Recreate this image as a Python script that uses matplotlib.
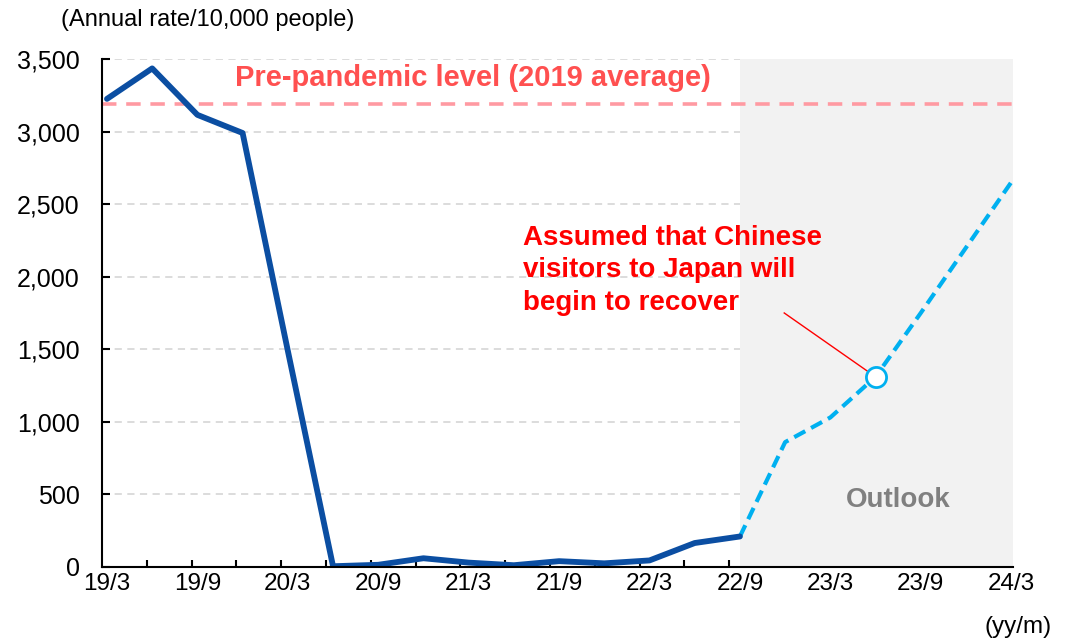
import numpy as np
import matplotlib
matplotlib.use('Agg')
from matplotlib import pyplot as plt

plt.rcParams['font.family'] = ['Liberation Sans', 'DejaVu Sans']

# 四半期ラベル (yy/m)
quarters = ['19/3', '19/6', '19/9', '19/12', '20/3', '20/6', '20/9', '20/12',
            '21/3', '21/6', '21/9', '21/12', '22/3', '22/6', '22/9', '22/12',
            '23/3', '23/6', '23/9', '23/12', '24/3']
# 実績 (19/3 - 22/9)
actual = [3225, 3435, 3115, 2990, 1490, 5, 15, 60, 30, 12, 40, 25, 45, 165, 210]
# 見通し (22/9 - 24/3)
outlook = [210, 860, 1030, 1310, 1750, 2200, 2650]
pre_pandemic = 3190
recovery_q = '23/6'

x_all = np.arange(len(quarters))
x_act = x_all[:len(actual)]
x_out = x_all[len(actual) - 1:]

fig = plt.figure(figsize=(10.68, 6.41), dpi=100)
ax = fig.add_axes([0.0955, 0.1155, 0.853, 0.7925])

ax.set_xlim(-0.11, 20.04)
ax.set_ylim(0, 3500)

# グリッド
ax.set_yticks(np.arange(0, 3501, 500))
ax.set_yticklabels(['{:,}'.format(v) for v in range(0, 3501, 500)])
ax.yaxis.grid(True, color='#D9D9D9', linestyle=(0, (4, 3)), linewidth=1.3, zorder=0)
ax.set_axisbelow(True)

# 見通し期間の網掛け
ax.axvspan(x_out[0], 20.04, color='#F2F2F2', zorder=1, linewidth=0)

# コロナ前水準
ax.axhline(pre_pandemic, color='#FF9AA2', linestyle=(0, (4, 2.7)), linewidth=2.6, zorder=2)
ax.text(8.1, 3370, 'Pre-pandemic level (2019 average)', color='#FF5050',
        fontsize=21, fontweight='bold', ha='center', va='center', zorder=5)

ax.plot(x_act, actual, color='#0B4EA2', linewidth=4.2, solid_capstyle='round',
        solid_joinstyle='round', zorder=4)
ax.plot(x_out, outlook, color='#00B0F0', linewidth=3, linestyle=(0, (3, 1.6)),
        zorder=3)

# 注記
i_rec = quarters.index(recovery_q)
y_rec = outlook[i_rec - x_out[0]]
ax.plot([14.98, i_rec], [1750, y_rec], color='#FF0000', linewidth=1, zorder=4)
ax.plot(i_rec, y_rec, marker='o', markersize=14.5, markerfacecolor='white',
        markeredgecolor='#00B0F0', markeredgewidth=2, zorder=6)
ax.text(9.2, 2045, 'Assumed that Chinese\nvisitors to Japan will\nbegin to recover',
        color='#FF0000', fontsize=20, fontweight='bold', ha='left', va='center',
        linespacing=1.33, zorder=5)
ax.text(17.5, 462, 'Outlook', color='#808080', fontsize=20, fontweight='bold',
        ha='center', va='center', zorder=5)

# 軸
for s in ['top', 'right']:
    ax.spines[s].set_visible(False)
for s in ['left', 'bottom']:
    ax.spines[s].set_linewidth(1.5)
    ax.spines[s].set_zorder(7)

ax.set_xticks(x_all[::2])
ax.set_xticklabels(quarters[::2])
ax.set_xticks(-0.11 + 0.991 * np.arange(1, 21), minor=True)
ax.tick_params(axis='x', which='major', length=0, pad=4, labelsize=17.5)
ax.tick_params(axis='x', which='minor', length=5, width=1.5, direction='in')
ax.tick_params(axis='y', which='major', length=6, width=1.5, direction='in',
               pad=16, labelsize=18)

fig.text(208 / 1068, 1 - 20 / 641, '(Annual rate/10,000 people)', fontsize=17,
         ha='center', va='center')
fig.text(1018 / 1068, 1 - 627 / 641, '(yy/m)', fontsize=17.5, ha='center', va='center')

fig.savefig('out.png', dpi=100)
